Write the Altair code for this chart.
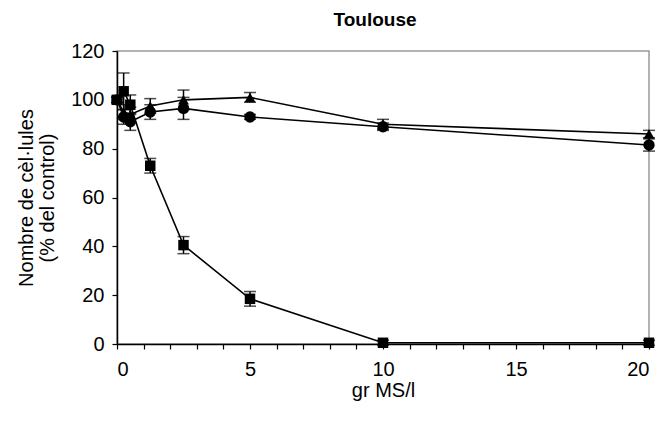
import altair as alt
import pandas as pd

# ---- data ----
x_vals = [0, 0.25, 0.5, 1.25, 2.5, 5, 10, 20]
series_names = ["A", "B", "C"]
sq_vals = [100, 103.5, 98, 73, 40.5, 18.5, 0.5, 0.5]
sq_err = [1.5, 7.5, 4, 3, 3.5, 3, 1, 1]
tri_vals = [100, 95, 94, 97.5, 100, 101, 90, 86]
tri_err = [1, 3, 3, 3, 4, 2, 2, 1.5]
cir_vals = [100, 93, 91, 95, 96.5, 93, 89, 81.5]
cir_err = [1, 3, 3.5, 3, 4.5, 1, 1.5, 2.5]

x_ticks = list(range(0, 21))
y_ticks = [0, 20, 40, 60, 80, 100, 120]

rows = []
for name, vals, errs in zip(series_names, [sq_vals, tri_vals, cir_vals], [sq_err, tri_err, cir_err]):
    for xv, yv, ev in zip(x_vals, vals, errs):
        rows.append({"x": xv, "y": yv, "lo": yv - ev, "hi": yv + ev, "series": name})
df = pd.DataFrame(rows)

FONT = "Liberation Sans"

x_scale = alt.Scale(domain=[0, 20], nice=False, zero=False)
y_scale = alt.Scale(domain=[0, 120], nice=False)
x_axis = alt.Axis(values=x_ticks, labelExpr="datum.value % 5 == 0 ? datum.label : ''",
                  title="gr MS/l", tickSize=5, labelPadding=10, titlePadding=1,
                  grid=False)
y_axis = alt.Axis(values=y_ticks, title=["Nombre de cèl·lules", "(% del control)"],
                  tickSize=5, labelPadding=8, titlePadding=13, titleLineHeight=21,
                  grid=False)

def X(f):
    return alt.X(f, scale=x_scale, axis=x_axis)

def Y(f):
    return alt.Y(f, scale=y_scale, axis=y_axis)

base = alt.Chart(df)

lines = base.mark_line(color="black", strokeWidth=1.6).encode(
    x=X("x:Q"), y=Y("y:Q"), detail="series:N", order="x:Q")
rules = base.mark_rule(color="black", strokeWidth=1.5).encode(
    x=X("x:Q"), y=Y("lo:Q"), y2="hi:Q")
cap_hi = base.mark_tick(orient="horizontal", color="black", size=12, thickness=1.5).encode(
    x=X("x:Q"), y=Y("hi:Q"))
cap_lo = base.mark_tick(orient="horizontal", color="black", size=12, thickness=1.5).encode(
    x=X("x:Q"), y=Y("lo:Q"))
points = base.mark_point(filled=True, color="black", opacity=1).encode(
    x=X("x:Q"), y=Y("y:Q"),
    shape=alt.Shape("series:N", scale=alt.Scale(domain=series_names,
                    range=["square", "triangle-up", "circle"]), legend=None),
    size=alt.Size("series:N", scale=alt.Scale(domain=series_names, range=[110, 130, 80]),
                  legend=None))

chart = alt.layer(lines, rules, cap_hi, cap_lo, points).properties(
    width=532, height=293,
    padding={"left": 117, "top": 51, "right": 16, "bottom": 79},
    autosize=alt.AutoSizeParams(type="none"),
    title=alt.Title("Toulouse", font=FONT, fontSize=19, fontWeight="bold",
                    color="black", anchor="middle", dx=-8, offset=11),
).configure_view(stroke="#999999", strokeWidth=1.5).configure_axis(
    labelFont=FONT, titleFont=FONT, labelFontSize=20, titleFontSize=20,
    labelColor="black", titleColor="black", titleFontWeight="normal",
    domainColor="black", tickColor="black", domainWidth=1.5, tickWidth=1.2,
)

chart.save("out.html", embed_options={"renderer": "svg", "actions": False})
